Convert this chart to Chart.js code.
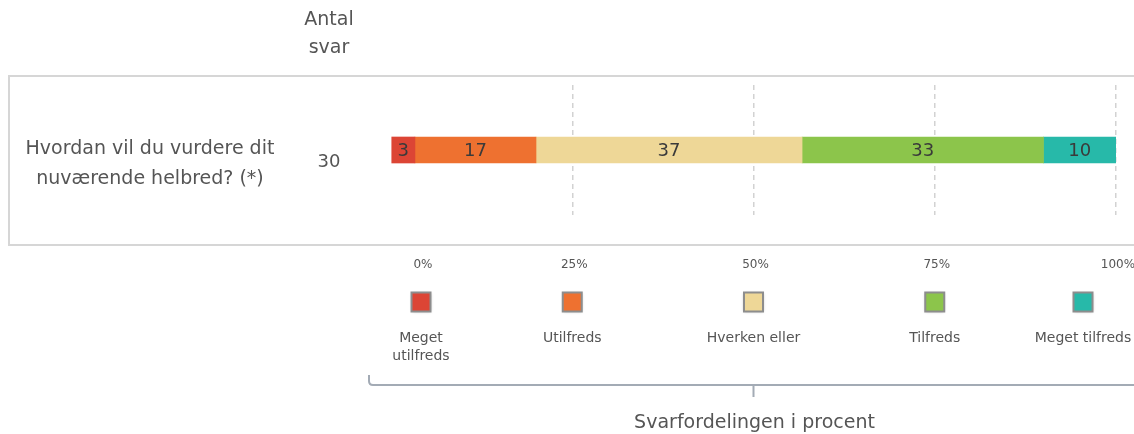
<!DOCTYPE html>
<html>
<head>
<meta charset="utf-8">
<script src="https://cdn.jsdelivr.net/npm/chart.js@4/dist/chart.umd.min.js"></script>
<style>
  html, body { margin: 0; padding: 0; background: #fff; }
  #wrap { position: relative; width: 1134px; height: 434px; }
</style>
</head>
<body>
<div id="wrap"><canvas id="chart"></canvas></div>
<script>
// Svarfordeling for et enkelt spørgsmål
const categories = [['Meget', 'utilfreds'], ['Utilfreds'], ['Hverken eller'], ['Tilfreds'], ['Meget tilfreds']];
const percentValues = [3.3, 16.7, 36.7, 33.3, 10];
const segmentColors = ['#dc4535', '#ee7130', '#eed797', '#8cc54b', '#27b9a9'];
const tickValues = [0, 25, 50, 75, 100];
const questionLines = ['Hvordan vil du vurdere dit', 'nuværende helbred? (*)'];
const countHeader = ['Antal', 'svar'];
const answerCount = 30;
const axisTitle = 'Svarfordelingen i procent';

const FONT = "'DejaVu Sans', sans-serif";
const TEXT = '#555';

function fontOf(size) { return `${size}px ${FONT}`; }

// frame, question text and count column
const framePlugin = {
  id: 'frame',
  beforeDraw(chart) {
    const { ctx, width } = chart;
    ctx.save();
    ctx.fillStyle = '#fff';
    ctx.fillRect(0, 0, width, chart.height);
    ctx.strokeStyle = '#d6d6d6';
    ctx.lineWidth = 2;
    ctx.beginPath();
    ctx.moveTo(width, 76);
    ctx.lineTo(9, 76);
    ctx.lineTo(9, 245);
    ctx.lineTo(width, 245);
    ctx.stroke();

    ctx.fillStyle = TEXT;
    ctx.textAlign = 'center';
    ctx.textBaseline = 'middle';
    ctx.font = fontOf(19);
    ctx.fillText(countHeader[0], 329, 20);
    ctx.fillText(countHeader[1], 329, 48);
    ctx.font = fontOf(18);
    ctx.fillText(String(answerCount), 329, 162);
    ctx.font = fontOf(19);
    questionLines.forEach((line, i) => ctx.fillText(line, 150, 149 + i * 30));
    ctx.restore();
  },
};

// numbers inside each bar segment
const segmentLabels = {
  id: 'segmentLabels',
  afterDatasetsDraw(chart) {
    const { ctx } = chart;
    ctx.save();
    ctx.font = fontOf(18);
    ctx.fillStyle = '#3a3a3a';
    ctx.textAlign = 'center';
    ctx.textBaseline = 'middle';
    chart.data.datasets.forEach((ds, i) => {
      const bar = chart.getDatasetMeta(i).data[0];
      if (!bar) return;
      ctx.fillText(String(Math.round(ds.data[0])), (bar.x + bar.base) / 2, bar.y + 1);
    });
    ctx.restore();
  },
};

// percent labels, legend squares, brace and title under the plot
const bottomPlugin = {
  id: 'bottom',
  afterDraw(chart) {
    const { ctx, chartArea, width } = chart;
    const xs = chart.scales.x;
    const col = (v) => Math.min(Math.max(xs.getPixelForValue(v), chartArea.left + 30), width - 51);
    ctx.save();
    ctx.fillStyle = TEXT;
    ctx.textAlign = 'center';
    ctx.textBaseline = 'middle';

    ctx.font = fontOf(12);
    tickValues.forEach((v) => {
      const x = Math.max(xs.getPixelForValue(v), chartArea.left + 30);
      ctx.fillText(v + '%', x + 2, 265);
    });

    tickValues.forEach((v, i) => {
      const cx = col(v);
      const s = 19;
      const top = 302 - s / 2;
      ctx.save();
      ctx.shadowColor = 'rgba(0,0,0,0.35)';
      ctx.shadowBlur = 3;
      ctx.fillStyle = segmentColors[i];
      ctx.fillRect(cx - s / 2, top, s, s);
      ctx.restore();
      ctx.strokeStyle = '#8d8d8d';
      ctx.lineWidth = 2;
      ctx.strokeRect(cx - s / 2, top, s, s);

      ctx.fillStyle = TEXT;
      ctx.font = fontOf(14);
      categories[i].forEach((line, j) => ctx.fillText(line, cx, 338 + j * 18));
    });

    // brace
    const mid = xs.getPixelForValue(50);
    ctx.strokeStyle = '#a3abb5';
    ctx.lineWidth = 2;
    ctx.beginPath();
    ctx.moveTo(369, 375);
    ctx.lineTo(369, 381);
    ctx.quadraticCurveTo(369, 385, 373, 385);
    ctx.lineTo(width, 385);
    ctx.moveTo(mid, 385);
    ctx.lineTo(mid, 397);
    ctx.stroke();

    ctx.fillStyle = TEXT;
    ctx.font = fontOf(19);
    ctx.fillText(axisTitle, mid + 1, 423);
    ctx.restore();
  },
};

new Chart(document.getElementById('chart'), {
  type: 'bar',
  data: {
    labels: ['helbred'],
    datasets: categories.map((c, i) => ({
      label: c.join(' '),
      data: [percentValues[i]],
      backgroundColor: segmentColors[i],
      borderWidth: 0,
      barThickness: 26,
    })),
  },
  options: {
    indexAxis: 'y',
    responsive: true,
    maintainAspectRatio: false,
    animation: false,
    layout: { padding: { left: 391, right: 18, top: 85, bottom: 219 } },
    plugins: { legend: { display: false }, tooltip: { enabled: false } },
    scales: {
      x: {
        stacked: true,
        min: 0,
        max: 100,
        afterBuildTicks: (axis) => { axis.ticks = tickValues.map((v) => ({ value: v })); },
        ticks: { display: false },
        grid: {
          drawTicks: false,
          lineWidth: 1.5,
          color: (c) => (c.tick && c.tick.value === 0 ? 'rgba(0,0,0,0)' : '#d2d2d2'),
        },
        border: { display: false, dash: [5, 4] },
      },
      y: { stacked: true, display: false },
    },
  },
  plugins: [framePlugin, segmentLabels, bottomPlugin],
});
</script>
</body>
</html>
